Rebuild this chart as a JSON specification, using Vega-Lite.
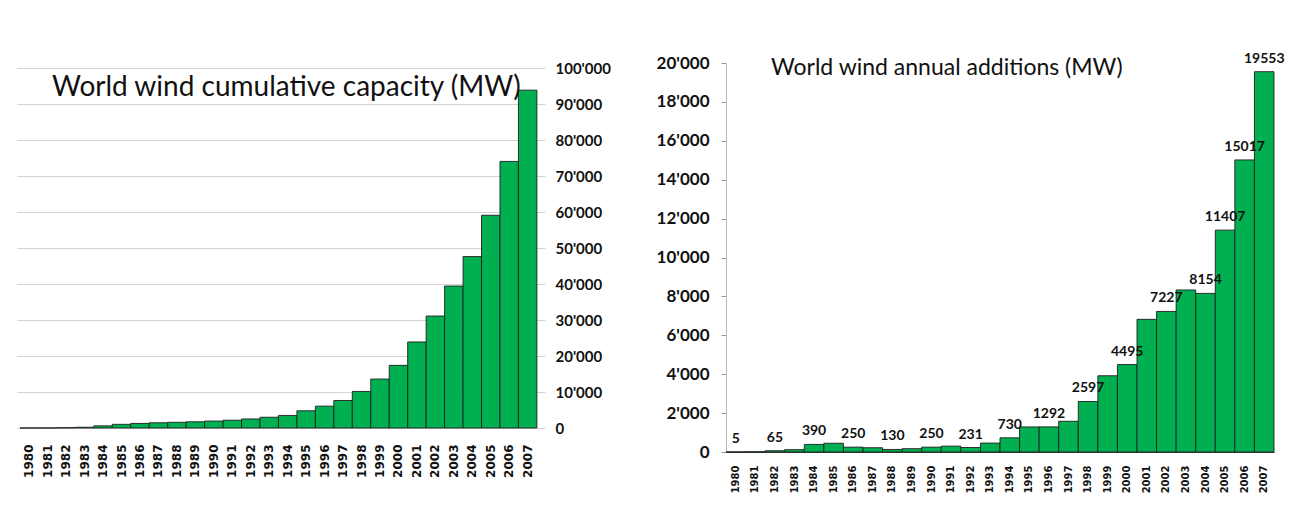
{
  "$schema": "https://vega.github.io/schema/vega-lite/v6.json",
  "background": "white",
  "padding": {"left": 17, "top": 51, "right": 0, "bottom": 0},
  "spacing": 45,
  "config": {
    "locale": {"number": {"decimal": ".", "thousands": "'", "grouping": [3], "currency": ["", ""]}},
    "view": {"stroke": null},
    "font": "Lato"
  },
  "datasets": {
    "cum": [
      {"year": "1980", "mw": 10}, {"year": "1981", "mw": 25}, {"year": "1982", "mw": 90}, {"year": "1983", "mw": 210},
      {"year": "1984", "mw": 600}, {"year": "1985", "mw": 1020}, {"year": "1986", "mw": 1270}, {"year": "1987", "mw": 1450},
      {"year": "1988", "mw": 1580}, {"year": "1989", "mw": 1730}, {"year": "1990", "mw": 1930}, {"year": "1991", "mw": 2170},
      {"year": "1992", "mw": 2510}, {"year": "1993", "mw": 2990}, {"year": "1994", "mw": 3490}, {"year": "1995", "mw": 4780},
      {"year": "1996", "mw": 6070}, {"year": "1997", "mw": 7640}, {"year": "1998", "mw": 10153}, {"year": "1999", "mw": 13600},
      {"year": "2000", "mw": 17400}, {"year": "2001", "mw": 23900}, {"year": "2002", "mw": 31100}, {"year": "2003", "mw": 39431},
      {"year": "2004", "mw": 47620}, {"year": "2005", "mw": 59091}, {"year": "2006", "mw": 74052}, {"year": "2007", "mw": 93849}
    ],
    "add": [
      {"year": "1980", "mw": 5}, {"year": "1981", "mw": 15}, {"year": "1982", "mw": 65}, {"year": "1983", "mw": 120},
      {"year": "1984", "mw": 390}, {"year": "1985", "mw": 450}, {"year": "1986", "mw": 250}, {"year": "1987", "mw": 220},
      {"year": "1988", "mw": 130}, {"year": "1989", "mw": 170}, {"year": "1990", "mw": 250}, {"year": "1991", "mw": 300},
      {"year": "1992", "mw": 231}, {"year": "1993", "mw": 460}, {"year": "1994", "mw": 730}, {"year": "1995", "mw": 1290},
      {"year": "1996", "mw": 1292}, {"year": "1997", "mw": 1580}, {"year": "1998", "mw": 2597}, {"year": "1999", "mw": 3920},
      {"year": "2000", "mw": 4495}, {"year": "2001", "mw": 6820}, {"year": "2002", "mw": 7227}, {"year": "2003", "mw": 8330},
      {"year": "2004", "mw": 8154}, {"year": "2005", "mw": 11407}, {"year": "2006", "mw": 15017}, {"year": "2007", "mw": 19553}
    ]
  },
  "hconcat": [
    {
      "width": 528,
      "height": 365,
      "title": {"text": "World wind cumulative capacity (MW)", "anchor": "start", "frame": "group", "dx": 35, "offset": -41, "baseline": "top", "fontSize": 28, "fontWeight": "normal", "color": "#111111", "font": "Lato"},
      "data": {"name": "cum"},
      "mark": {"type": "bar", "color": "#00b050", "stroke": "#1e1e1e", "strokeWidth": 0.9},
      "encoding": {
        "x": {"field": "year", "type": "ordinal", "sort": null,
          "scale": {"paddingInner": 0, "paddingOuter": 0.3, "align": 0.27},
          "axis": {"title": null, "labelAngle": -90, "labelFont": "DejaVu Sans", "labelFontWeight": "bold", "labelFontSize": 12, "labelColor": "#111111", "ticks": false, "domain": false, "labelPadding": 16}},
        "y": {"field": "mw", "type": "quantitative",
          "scale": {"domain": [0, 101389], "nice": false},
          "axis": {"title": null, "orient": "right", "values": [0, 10000, 20000, 30000, 40000, 50000, 60000, 70000, 80000, 90000, 100000], "format": ",d", "grid": true, "gridColor": "#d3d3d3", "gridWidth": 1.2, "domain": false, "ticks": false, "labelPadding": 10, "labelFontSize": 15, "labelFontWeight": "bold", "labelColor": "#111111", "labelFont": "Lato"}}
      }
    },
    {
      "width": 548,
      "height": 389,
      "title": {"text": "World wind annual  additions (MW)", "anchor": "start", "frame": "group", "dx": 45, "offset": -28, "baseline": "top", "fontSize": 23, "fontWeight": "normal", "color": "#111111", "font": "Lato"},
      "data": {"name": "add"},
      "encoding": {
        "x": {"field": "year", "type": "ordinal", "sort": null,
          "scale": {"paddingInner": 0, "paddingOuter": 0},
          "axis": {"title": null, "labelAngle": -90, "labelFont": "DejaVu Sans", "labelFontWeight": "bold", "labelFontSize": 10, "labelColor": "#111111", "ticks": false, "domain": true, "domainColor": "#444444", "labelPadding": 13}},
        "y": {"field": "mw", "type": "quantitative",
          "scale": {"domain": [0, 20000], "nice": false},
          "axis": {"title": null, "values": [0, 2000, 4000, 6000, 8000, 10000, 12000, 14000, 16000, 18000, 20000], "format": ",d", "grid": false, "domain": true, "domainColor": "#bbbbbb", "ticks": true, "tickColor": "#999999", "tickSize": 5, "labelPadding": 12, "labelFontSize": 17, "labelFontWeight": "bold", "labelColor": "#111111", "labelFont": "Lato"}}
      },
      "layer": [
        {"mark": {"type": "bar", "color": "#00b050", "stroke": "#1e1e1e", "strokeWidth": 0.9}},
        {"transform": [{"filter": {"field": "year", "oneOf": ["1980", "1982", "1984", "1986", "1988", "1990", "1992", "1994", "1996", "1998", "2000", "2002", "2004", "2005", "2006", "2007"]}}],
         "mark": {"type": "text", "baseline": "bottom", "dy": -6, "fontWeight": "bold", "fontSize": 14, "color": "#111111", "font": "Lato"},
         "encoding": {"text": {"field": "mw", "type": "quantitative", "format": "d"}}}
      ]
    }
  ]
}
